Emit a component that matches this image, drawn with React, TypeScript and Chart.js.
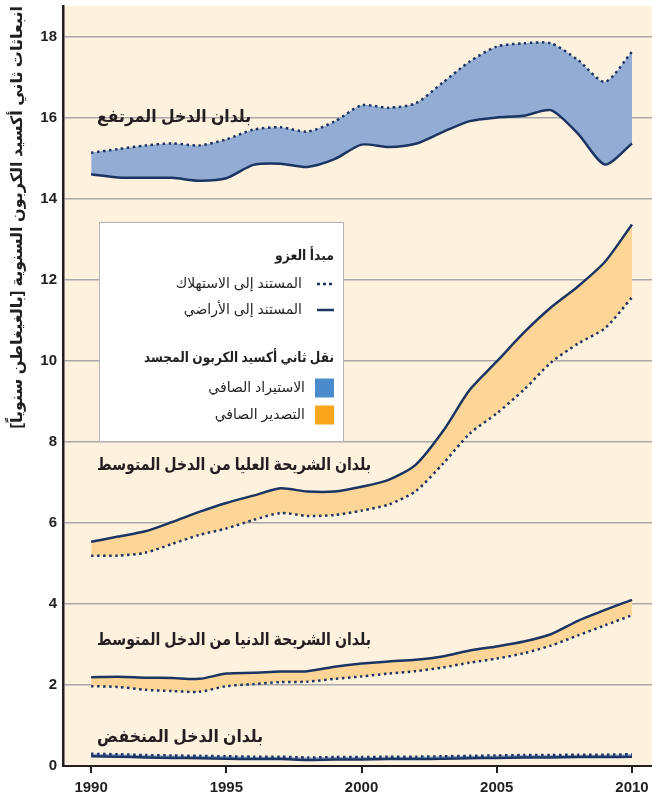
import React, { useEffect, useRef } from "react";
import { Chart, registerables } from "chart.js";

Chart.register(...registerables);

// ---------- data ----------
const YEARS = [1990, 1991, 1992, 1993, 1994, 1995, 1996, 1997, 1998, 1999, 2000, 2001, 2002, 2003, 2004, 2005, 2006, 2007, 2008, 2009, 2010];

// High income
const HIGH_CONS = [15.13, 15.22, 15.31, 15.36, 15.31, 15.46, 15.70, 15.76, 15.65, 15.90, 16.30, 16.24, 16.35, 16.86, 17.38, 17.75, 17.83, 17.83, 17.42, 16.88, 17.62];
const HIGH_TERR = [14.60, 14.52, 14.51, 14.51, 14.44, 14.50, 14.83, 14.86, 14.78, 14.97, 15.33, 15.27, 15.35, 15.64, 15.91, 16.00, 16.04, 16.18, 15.60, 14.84, 15.36];
// Upper-middle income
const UPPER_TERR = [5.53, 5.66, 5.79, 6.02, 6.27, 6.49, 6.67, 6.85, 6.77, 6.77, 6.89, 7.06, 7.43, 8.25, 9.28, 9.98, 10.69, 11.31, 11.83, 12.44, 13.36];
const UPPER_CONS = [5.19, 5.19, 5.26, 5.48, 5.70, 5.86, 6.07, 6.24, 6.17, 6.19, 6.30, 6.45, 6.78, 7.45, 8.20, 8.70, 9.28, 9.95, 10.42, 10.80, 11.56];
// Lower-middle income
const LOWER_TERR = [2.19, 2.20, 2.18, 2.17, 2.15, 2.28, 2.30, 2.33, 2.34, 2.45, 2.53, 2.58, 2.62, 2.70, 2.85, 2.95, 3.07, 3.25, 3.58, 3.85, 4.10];
const LOWER_CONS = [1.97, 1.95, 1.88, 1.85, 1.83, 1.97, 2.02, 2.07, 2.08, 2.15, 2.21, 2.28, 2.34, 2.43, 2.55, 2.65, 2.78, 2.97, 3.22, 3.47, 3.72];
// Low income
const LOW_TERR = [0.24, 0.23, 0.21, 0.20, 0.19, 0.18, 0.17, 0.17, 0.15, 0.16, 0.16, 0.17, 0.17, 0.18, 0.19, 0.20, 0.21, 0.21, 0.22, 0.22, 0.23];
const LOW_CONS = [0.30, 0.29, 0.27, 0.26, 0.25, 0.24, 0.23, 0.23, 0.21, 0.22, 0.22, 0.23, 0.23, 0.24, 0.25, 0.26, 0.27, 0.27, 0.28, 0.28, 0.29];

const X_TICKS = [1990, 1995, 2000, 2005, 2010];
const Y_TICKS_STEP = 2;

const Y_TITLE = "انبعاثات ثاني أكسيد الكربون السنوية [بالغيغاطن سنوياً]";
const GROUP_LABELS = [
  "بلدان الدخل المرتفع",
  "بلدان الشريحة العليا من الدخل المتوسط",
  "بلدان الشريحة الدنيا من الدخل المتوسط",
  "بلدان الدخل المنخفض",
];
const GROUP_LABEL_Y = [16.0, 7.43, 3.09, 0.72];
const GROUP_LABEL_X = 1990.22;

const LEGEND_TITLE_1 = "مبدأ العزو";
const LEGEND_LINES = ["المستند إلى الاستهلاك", "المستند إلى الأراضي"];
const LEGEND_TITLE_2 = "نقل ثاني أكسيد الكربون المجسد";
const LEGEND_BOXES = ["الاستيراد الصافي", "التصدير الصافي"];

// ---------- styles ----------
const FONT = "'Liberation Sans', 'DejaVu Sans', Arial, sans-serif";
const NAVY = "#1b3563";
const BLUE_FILL = "#92acd3";
const ORANGE_FILL = "#fdd596";
const BG = "#fef2df";
const LEGEND_BLUE = "#4a8ccb";
const LEGEND_ORANGE = "#f8a51c";
const GRID = "#a8a8a8";
const AXIS = "#231f20";
const TEXT = "#231f20";
const GROUP_LABEL_WIDTHS = [154, 274, 274, 166];

const pts = (vals: number[]) => YEARS.map((y, i) => ({ x: y, y: vals[i] }));

const pairs: [number[], number[]][] = [
  [HIGH_TERR, HIGH_CONS],
  [UPPER_TERR, UPPER_CONS],
  [LOWER_TERR, LOWER_CONS],
  [LOW_TERR, LOW_CONS],
];

const decorPlugin = {
  id: "decor",
  beforeDraw(chart: any) {
    const { ctx, chartArea: a } = chart;
    ctx.save();
    ctx.fillStyle = BG;
    ctx.fillRect(a.left, a.top, a.right - a.left, a.bottom - a.top);
    ctx.restore();
  },
  afterDraw(chart: any) {
    const { ctx } = chart;
    const xs = chart.scales.x;
    const ys = chart.scales.y;
    ctx.save();
    ctx.direction = "rtl";
    ctx.fillStyle = TEXT;
    ctx.textBaseline = "middle";
    ctx.textAlign = "left";
    ctx.font = `bold 17px ${FONT}`;
    GROUP_LABELS.forEach((t, i) => {
      ctx.fillText(t, xs.getPixelForValue(GROUP_LABEL_X), ys.getPixelForValue(GROUP_LABEL_Y[i]), GROUP_LABEL_WIDTHS[i]);
    });

    // legend box
    const bx0 = 99, by0 = 222, bx1 = 344, by1 = 442;
    ctx.fillStyle = "#ffffff";
    ctx.fillRect(bx0, by0, bx1 - bx0, by1 - by0);
    ctx.strokeStyle = "#b4b4b4";
    ctx.lineWidth = 1;
    ctx.strokeRect(bx0 + 0.5, by0 + 0.5, bx1 - bx0 - 1, by1 - by0 - 1);

    ctx.textAlign = "right";
    ctx.fillStyle = TEXT;
    ctx.font = `bold 14px ${FONT}`;
    ctx.fillText(LEGEND_TITLE_1, 334, 256, 59);
    ctx.fillText(LEGEND_TITLE_2, 334, 358, 190);

    ctx.font = `14px ${FONT}`;
    const lineY = [284, 310];
    LEGEND_LINES.forEach((t, i) => {
      ctx.fillStyle = TEXT;
      ctx.fillText(t, 302, lineY[i]);
      ctx.strokeStyle = NAVY;
      ctx.lineWidth = 2.5;
      ctx.setLineDash(i === 0 ? [3, 3] : []);
      ctx.beginPath();
      ctx.moveTo(317, lineY[i]);
      ctx.lineTo(334, lineY[i]);
      ctx.stroke();
    });
    ctx.setLineDash([]);
    const boxY = [388, 415];
    const boxC = [LEGEND_BLUE, LEGEND_ORANGE];
    LEGEND_BOXES.forEach((t, i) => {
      ctx.fillStyle = boxC[i];
      ctx.fillRect(315, boxY[i] - 9.5, 19, 19);
      ctx.fillStyle = TEXT;
      ctx.fillText(t, 305, boxY[i]);
    });
    ctx.restore();
  },
};

export default function App() {
  const ref = useRef<HTMLCanvasElement>(null);
  useEffect(() => {
    if (!ref.current) return;
    const datasets: any[] = [];
    pairs.forEach(([terr, cons]) => {
      const terrIndex = datasets.length;
      datasets.push({
        label: "terr",
        data: pts(terr),
        borderColor: NAVY,
        borderWidth: 2.5,
        fill: false,
        pointRadius: 0,
        tension: 0.25,
      });
      datasets.push({
        label: "cons",
        data: pts(cons),
        borderColor: NAVY,
        borderWidth: 2.5,
        borderDash: [2.5, 3.5],
        pointRadius: 0,
        tension: 0.25,
        fill: { target: terrIndex, above: BLUE_FILL, below: ORANGE_FILL },
      });
    });

    const chart = new Chart(ref.current, {
      type: "line",
      data: { datasets },
      plugins: [decorPlugin],
      options: {
        responsive: false,
        animation: false,
        devicePixelRatio: 1,
        layout: { padding: { top: 6, right: 0, left: 0, bottom: 0 } },
        plugins: {
          legend: { display: false },
          tooltip: { enabled: false },
          filler: { drawTime: "beforeDatasetsDraw" },
        } as any,
        scales: {
          x: {
            type: "linear",
            min: 1988.96,
            max: 2010.74,
            afterBuildTicks: (s: any) => {
              s.ticks = X_TICKS.map((v) => ({ value: v }));
            },
            afterFit: (s: any) => {
              s.height = 38;
              s.paddingLeft = 0;
              s.paddingRight = 0;
            },
            ticks: {
              autoSkip: false,
              maxRotation: 0,
              padding: 6,
              color: TEXT,
              font: { family: FONT, size: 15, weight: "bold" },
              callback: (v: any) => String(v),
            },
            grid: { drawOnChartArea: false, drawTicks: true, tickLength: 7, color: AXIS, lineWidth: 2 },
            border: { color: AXIS, width: 2 },
          } as any,
          y: {
            type: "linear",
            min: 0,
            max: 18.75,
            afterFit: (s: any) => {
              s.width = 63;
              s.paddingTop = 0;
              s.paddingBottom = 0;
            },
            ticks: {
              stepSize: Y_TICKS_STEP,
              includeBounds: false,
              padding: 6,
              color: TEXT,
              font: { family: FONT, size: 15, weight: "bold" },
            },
            grid: { color: GRID, lineWidth: 1.5, drawTicks: false },
            border: { color: AXIS, width: 2.5 },
            title: {
              display: true,
              text: Y_TITLE,
              align: "end",
              color: TEXT,
              font: { family: FONT, size: 16, weight: "bold" },
              padding: { top: 8, bottom: 0 },
            },
          } as any,
        },
      },
    });
    return () => chart.destroy();
  }, []);

  return (
    <div style={{ position: "absolute", left: 0, top: 0, width: 652, height: 804 }}>
      <canvas ref={ref} width={652} height={804} dir="rtl" style={{ display: "block" }} />
    </div>
  );
}
